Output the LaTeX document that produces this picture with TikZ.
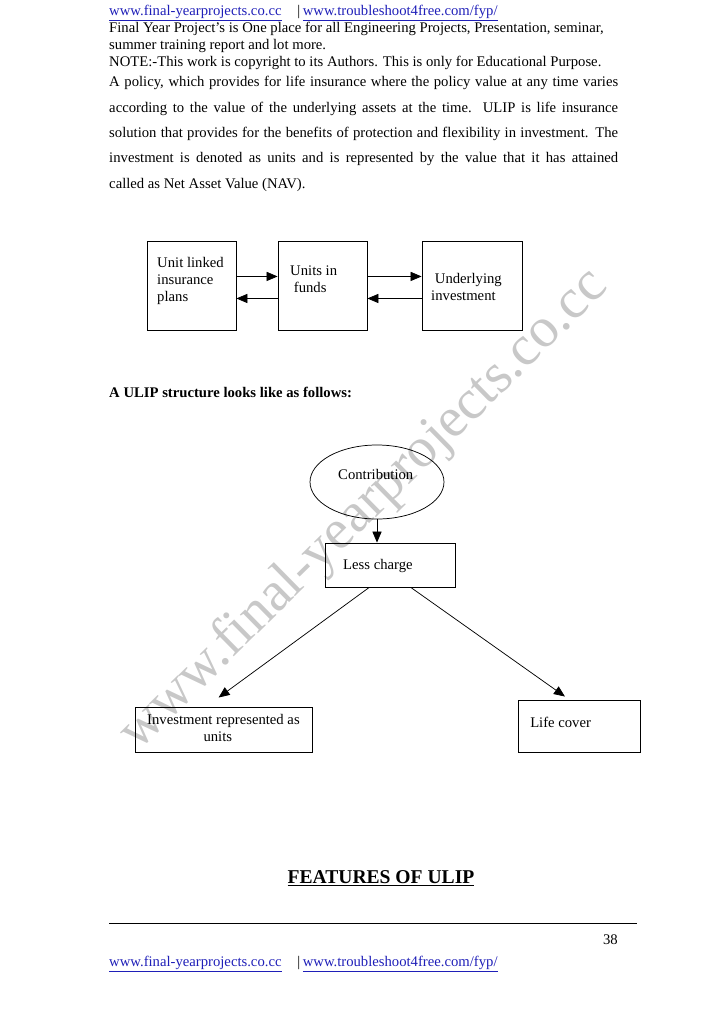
\documentclass[tikz,border=0pt]{standalone}
\usepackage{fontspec}
\setmainfont{Liberation Serif}
\usepackage{xcolor}
\usepackage{tikz}
\usetikzlibrary{arrows.meta,fit,shapes.geometric}
\definecolor{linkblue}{HTML}{1F1FB8}
\definecolor{wmgray}{HTML}{C8C8C8}
\newcommand\lnk[1]{\textcolor{linkblue}{\underline{#1}}}
\newcommand\linkline{\lnk{www.final-yearprojects.co.cc}\hspace{13pt}|\hspace{2pt}\lnk{www.troubleshoot4free.com/fyp/}}

\begin{document}
\begin{tikzpicture}[
 x=0.8174pt,y=-0.8174pt,font=\fontsize{12}{13.8}\selectfont,
 box/.style={draw,line width=0.7pt,inner sep=0pt},
 txt/.style={inner sep=0pt,anchor=north west,align=left},
 arr/.style={-{Triangle[length=9pt,width=7.5pt]},line width=0.6pt}
]
\useasboundingbox (0,0) rectangle (728,1031);
% watermark
\node[text=wmgray,rotate=44.5,font=\fontsize{46}{46}\selectfont] (wm) at (364,510) {www.final-yearprojects.co.cc};
% header and paragraph
\node[txt] (head) at (109,5) {\linkline\\
 Final Year Project's is One place for all Engineering Projects, Presentation, seminar,\\
 summer training report and lot more.\\
 NOTE:-This work is copyright to its Authors. This is only for Educational Purpose.};
\node[txt,font=\fontsize{12}{20.8}\selectfont] (para) at (109,76) {%
 \makebox[416pt][s]{A policy, which provides for life insurance where the policy value at any time varies}\\
 \makebox[416pt][s]{according to the value of the underlying assets at the time. ULIP is life insurance}\\
 \makebox[416pt][s]{solution that provides for the benefits of protection and flexibility in investment. The}\\
 \makebox[416pt][s]{investment is denoted as units and is represented by the value that it has attained}\\
 called as Net Asset Value (NAV).};
% first diagram
\node[box,fit={(147,241) (236,330)}] (plans) {};
\node[box,fit={(278,241) (367,330)}] (funds) {};
\node[box,fit={(422,241) (522,330)}] (invest) {};
\node[txt] at (157,257) (plans-t) {Unit linked\\insurance\\plans};
\node[txt] at (290,266) (funds-t) {Units in\\\hspace{3pt}funds};
\node[txt] at (431,273) (invest-t) {\hspace{3pt}Underlying\\investment};
\draw[arr] ([yshift=7.4pt]plans.east) -- ([yshift=7.4pt]funds.west);
\draw[arr] ([yshift=-10.6pt]funds.west) -- ([yshift=-10.6pt]plans.east);
\draw[arr] ([yshift=7.4pt]funds.east) -- ([yshift=7.4pt]invest.west);
\draw[arr] ([yshift=-10.6pt]invest.west) -- ([yshift=-10.6pt]funds.east);
\node[txt,font=\bfseries\fontsize{12}{13.8}\selectfont] (ulip) at (109,387) {A ULIP structure looks like as follows:};
% second diagram
\node[draw,ellipse,line width=0.6pt,minimum width=109.5pt,minimum height=60.5pt,inner sep=0pt] (contrib) at (377,482) {};
\node[txt] (contrib-t) at (338,469) {Contribution};
\node[box,fit={(325,543) (455,587)}] (less) {};
\node[txt] (less-t) at (343,559) {Less charge};
\node[box,fit={(135,707) (312,752)}] (units) {};
\node[txt] (units-t) at (147,714) {Investment represented as\\\hspace{46pt}units};
\node[box,fit={(518,700) (640,752)}] (life) {};
\node[txt] (life-t) at (530,717) {Life cover};
\draw[arr] (contrib.south) -- (contrib.south |- less.north);
\draw[arr] ([xshift=-17pt]less.south) -- ([xshift=-4pt,yshift=7.4pt]units.north);
\draw[arr] ([xshift=17pt]less.south) -- ([xshift=-11.5pt,yshift=2.5pt]life.north);
% title and footer
\node[inner sep=0pt,font=\bfseries\fontsize{16}{18}\selectfont] (feat) at (381,878) {\underline{FEATURES OF ULIP}};
\draw[line width=0.6pt] (109,923) -- (637,923);
\node[inner sep=0pt,anchor=mid east] (page) at (618,942) {38};
\node[inner sep=0pt,anchor=mid west] (foot) at (109,964) {\linkline};
\end{tikzpicture}
\end{document}
